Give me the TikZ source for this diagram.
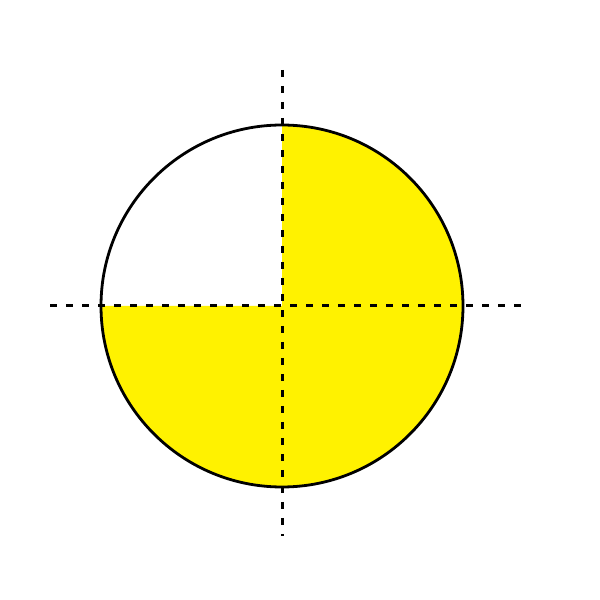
\documentclass[tikz,border=0pt]{standalone}
\begin{document}
\begin{tikzpicture}[x=1pt,y=1pt,
  axis/.style={line width=3pt,dash pattern=on 7pt off 9pt},
  rim/.style={line width=2.8pt}]
\useasboundingbox (0,0) rectangle (600,600);
\definecolor{sun}{RGB}{255,242,0}
\coordinate (c) at (282,294);
\fill[sun] (c) -- (282,475) arc[start angle=90,end angle=-180,radius=181] -- cycle;
\draw[rim] (c) circle[radius=181];
\coordinate (vt) at (282,530);
\coordinate (vb) at (282,64);
\coordinate (hl) at (50,294);
\coordinate (hr) at (525,294);
\draw[axis] (vt) -- (vb);
\draw[axis] (hl) -- (hr);
\end{tikzpicture}
\end{document}
